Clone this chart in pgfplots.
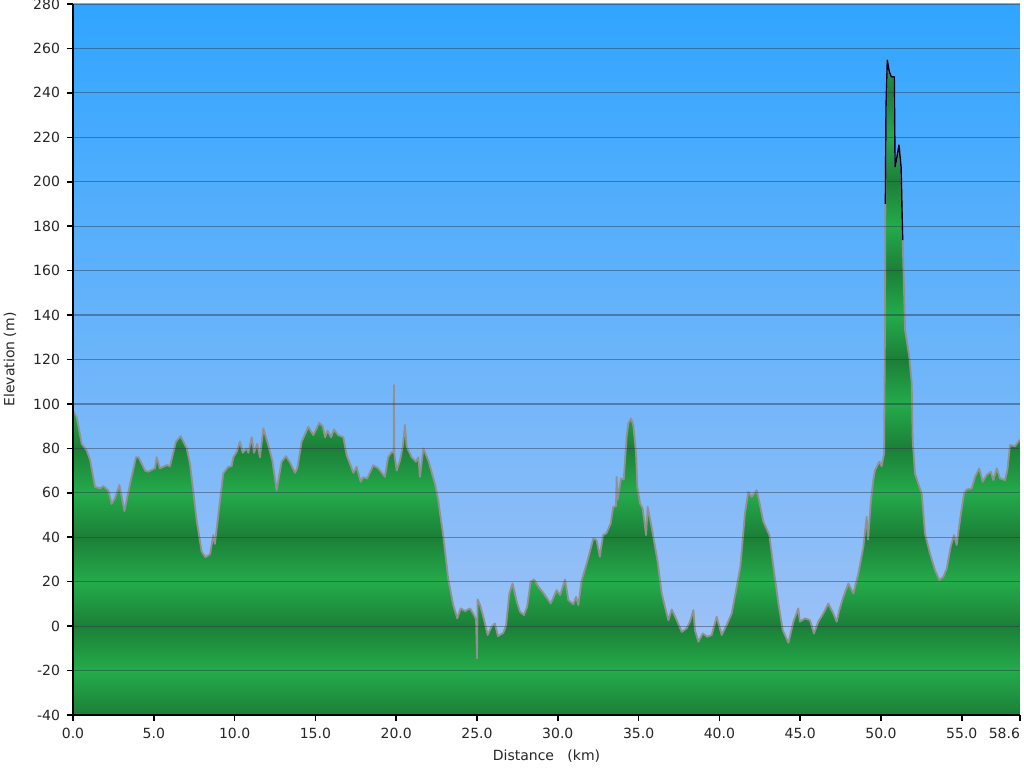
\documentclass[border=0pt]{standalone}
\usepackage{fontspec}
\setmainfont{DejaVu Sans}
\usepackage{pgfplots}
\usepackage{pgfplotstable}
\pgfplotsset{compat=1.18}
\definecolor{skytop}{RGB}{48,165,255}
\definecolor{skybot}{RGB}{160,194,246}
\definecolor{glight}{RGB}{36,171,75}
\definecolor{gdark}{RGB}{28,127,55}
\definecolor{outl}{RGB}{145,145,145}
\definecolor{gridc}{RGB}{40,50,70}
\pgfplotstableread{
x y
0.0 97
0.23 94
0.54 82
0.85 79
1.05 75
1.36 62.7
1.67 62
1.88 63
2.19 61
2.39 55
2.6 57.6
2.87 63.5
3.18 51.8
3.53 64
3.9 76
4.05 76
4.46 70
4.66 69.5
5.07 71
5.18 76
5.38 71
5.8 72.5
6.0 72
6.37 83
6.66 85.5
7.04 80
7.24 73
7.65 47.7
7.96 33.5
8.2 31
8.48 32.4
8.68 41
8.78 37
9.05 53.7
9.3 68.8
9.61 71.7
9.82 72
9.92 76
10.13 78.4
10.33 83
10.5 78
10.75 80
10.85 78
11.06 85
11.2 78
11.4 82
11.57 76
11.78 89
12.08 81.5
12.33 74.7
12.6 61
12.91 74
13.18 76.5
13.4 74
13.74 69
13.88 71
14.15 83
14.56 89.7
14.87 86
15.24 91.5
15.45 90
15.6 85
15.75 88
15.97 85
16.15 88.5
16.4 86
16.73 85
16.93 77
17.35 69
17.55 71.7
17.8 65
17.96 67
18.2 66.4
18.58 72.4
18.89 71
19.3 67.2
19.5 76
19.72 78.4
19.84 78
19.86 108.5
19.88 78
20.03 70
20.24 74.7
20.4 80.7
20.54 90.5
20.65 80.7
20.96 76
21.22 74
21.37 76
21.47 67.2
21.68 80
21.99 74.5
22.4 64
22.6 56.7
22.92 40
23.22 21
23.53 9.5
23.78 3.5
23.99 8
24.26 6.8
24.57 8
24.8 5.2
24.94 3
25.0 -14.5
25.04 12
25.19 9.5
25.39 4.2
25.66 -4
25.9 -0.3
26.1 1.2
26.3 -4.5
26.63 -3
26.8 0.4
27.0 14.7
27.2 19.2
27.46 11
27.66 6.5
27.9 5
28.1 8.7
28.32 20
28.53 21
28.8 17.7
29.1 15
29.56 10.2
29.93 16.2
30.14 14
30.45 21
30.65 11.7
30.96 9.9
31.13 13.2
31.27 9.5
31.48 20.7
31.79 28.2
32.2 39.5
32.4 38.7
32.6 31.2
32.8 41
33.0 41.7
33.27 46.2
33.43 53.7
33.6 54
33.64 67.2
33.7 57
33.91 66.4
34.08 66
34.26 85.2
34.36 91.2
34.53 93.5
34.67 90.5
34.84 77.7
34.92 62.7
35.09 55.2
35.25 53
35.46 41
35.56 53.7
35.8 44.7
36.16 29.7
36.43 14.7
36.63 8.7
36.84 2.7
37.05 7.5
37.36 2.7
37.67 -2.6
37.97 -1
38.18 2
38.39 7.2
38.49 -2
38.7 -7
38.97 -3.3
39.25 -4.8
39.52 -4
39.83 4.2
40.14 -4
40.45 0.5
40.76 5.7
41.07 17.7
41.3 27
41.58 50.7
41.79 60.4
42.0 58.2
42.31 61.2
42.51 54.5
42.72 47
43.09 41
43.34 26.7
43.65 10.2
43.92 -1.8
44.27 -7.5
44.58 2
44.88 8
44.98 2
45.3 3.5
45.6 2.7
45.85 -3.3
46.12 2
46.43 5.7
46.74 10.2
47.05 5.7
47.26 2
47.42 7.2
47.67 13.2
47.98 19.2
48.29 14.7
48.6 23.7
48.91 35.7
49.11 49.2
49.2 39
49.36 55.2
49.52 65.7
49.63 70.2
49.9 74
50.04 72
50.19 77.7
50.24 128
50.27 190
50.31 234
50.39 254.7
50.51 249.5
50.64 247.2
50.82 247.2
50.87 206.7
50.97 210.5
51.11 216.5
51.24 206.7
51.34 173.7
51.49 133.2
51.75 121.2
51.9 109.2
51.96 83.7
52.1 68.7
52.3 64.2
52.52 59.7
52.72 41.7
53.03 32.7
53.34 25.2
53.61 20.7
53.86 22.2
54.07 26
54.31 35.7
54.52 41
54.68 36.5
54.93 50
55.14 59.7
55.3 61.5
55.61 62
55.82 67.2
56.08 71
56.29 65
56.54 68
56.79 69.5
56.95 65.7
57.16 71
57.36 66.5
57.67 65.7
57.82 70.2
57.98 81.5
58.29 81
58.5 83
58.6 84
}\prof
\pgfplotstableread{
x y
50.27 190
50.31 234
50.39 254.7
50.51 249.5
50.64 247.2
50.82 247.2
50.87 206.7
50.97 210.5
51.11 216.5
51.24 206.7
51.34 173.7
}\peak
\begin{document}
\begin{tikzpicture}
\useasboundingbox (-36.5pt,-26.5pt) rectangle (475.5pt,357.5pt);
\begin{axis}[
  at={(0,0)}, anchor=south west,
  width=473.5pt, height=355.5pt, scale only axis,
  xmin=0, xmax=58.6, ymin=-40, ymax=280,
  enlargelimits=false,
  axis x line*=bottom, axis y line*=left,
  axis line style={-, line width=1pt, black},
  axis on top,
  tick align=outside, major tick length=3pt,
  tick style={black, line width=0.8pt},
  xtick={0,5,10,15,20,25,30,35,40,45,50,55,58.6},
  xticklabels={0.0,5.0,10.0,15.0,20.0,25.0,30.0,35.0,40.0,45.0,50.0,55.0,\makebox[0pt][r]{58.6}},
  ytick={-40,-20,0,20,40,60,80,100,120,140,160,180,200,220,240,260,280},
  yticklabels={-40,-20,0,20,40,60,80,100,120,140,160,180,200,220,240,260,280},
  ymajorgrids,
  major grid style={draw=gridc, opacity=0.45, line width=0.6pt},
  ticklabel style={font=\fontsize{7}{8.4}\selectfont, text=black!85},
  xlabel={Distance\ \ \ (km)}, ylabel={Elevation (m)},
  every axis x label/.style={at={(rel axis cs:0.5,0)}, anchor=center, yshift=-20.5pt, font=\fontsize{7}{8.4}\selectfont, text=black!85},
  every axis y label/.style={at={(rel axis cs:0,0.5)}, rotate=90, anchor=center, yshift=31.5pt, font=\fontsize{7}{8.4}\selectfont, text=black!85},
  clip=true,
]
\fill[top color=gdark, bottom color=gdark, middle color=glight] (axis cs:0,-40) rectangle (axis cs:58.6,0);
\fill[top color=gdark, bottom color=gdark, middle color=glight] (axis cs:0,0) rectangle (axis cs:58.6,40);
\fill[top color=gdark, bottom color=gdark, middle color=glight] (axis cs:0,40) rectangle (axis cs:58.6,80);
\fill[top color=gdark, bottom color=gdark, middle color=glight] (axis cs:0,80) rectangle (axis cs:58.6,120);
\fill[top color=gdark, bottom color=gdark, middle color=glight] (axis cs:0,120) rectangle (axis cs:58.6,160);
\fill[top color=gdark, bottom color=gdark, middle color=glight] (axis cs:0,160) rectangle (axis cs:58.6,200);
\fill[top color=gdark, bottom color=gdark, middle color=glight] (axis cs:0,200) rectangle (axis cs:58.6,240);
\fill[top color=gdark, bottom color=gdark, middle color=glight] (axis cs:0,240) rectangle (axis cs:58.6,280);
\addplot[draw=none, top color=skytop, bottom color=skybot] table[x=x,y=y] {\prof} -- (axis cs:58.6,280) -- (axis cs:0,280) -- cycle;
\addplot[outl, line width=0.9pt, line join=round] table[x=x,y=y] {\prof};
\addplot[black!80!blue, line width=0.7pt, line join=round] table[x=x,y=y] {\peak};
\end{axis}
\end{tikzpicture}
\end{document}
